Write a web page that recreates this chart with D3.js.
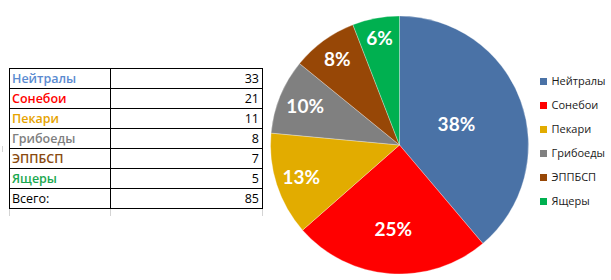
<!DOCTYPE html>
<html>
<head>
<meta charset="utf-8">
<script src="https://cdn.jsdelivr.net/npm/d3@7"></script>
<style>
  body { margin: 0; background: #fff; }
  svg { display: block; }
</style>
</head>
<body>
<div id="chart"></div>
<script>
// data
let categories = ['Нейтралы', 'Сонебои', 'Пекари', 'Грибоеды', 'ЭППБСП', 'Ящеры'];
let counts = [33, 21, 11, 8, 7, 5];
let pctLabels = ['38%', '25%', '13%', '10%', '8%', '6%'];
let totalLabel = 'Всего:';

let sliceColors = ['#4a72a6', '#ff0000', '#e2ac00', '#808080', '#974706', '#00b050'];
let textColors = ['#5b8bd0', '#ff0000', '#e6a300', '#7f7f7f', '#8a4a10', '#1aa84f'];

let w = 611, h = 280;
let svg = d3.select('#chart').append('svg').attr('width', w).attr('height', h);

//--------------------------------- table -------------------------------------//
let table = {left: 9, mid: 110, right: 262, top: 68, rowH: 20};
let rows = categories.map((c, i) => ({name: c, value: counts[i], color: textColors[i], bold: true}));
rows.push({name: totalLabel, value: d3.sum(counts), color: '#000', bold: false});

let yRow = d3.scaleLinear().domain([0, rows.length]).range([table.top, table.top + rows.length * table.rowH]);

let tg = svg.append('g');
// faint sheet gridlines below table
[table.left, table.mid, table.right].forEach(x => {
  tg.append('line').attr('x1', x + 0.5).attr('x2', x + 0.5)
    .attr('y1', yRow(rows.length)).attr('y2', yRow(rows.length) + 8)
    .attr('stroke', '#d4d4d4');
});
tg.append('line').attr('x1', 2.5).attr('x2', 2.5).attr('y1', 146).attr('y2', 152).attr('stroke', '#d4d4d4');

d3.range(rows.length + 1).forEach(i => {
  tg.append('line').attr('x1', table.left).attr('x2', table.right + 1)
    .attr('y1', yRow(i) + 0.5).attr('y2', yRow(i) + 0.5).attr('stroke', '#000');
});
[table.left, table.mid, table.right].forEach(x => {
  tg.append('line').attr('x1', x + 0.5).attr('x2', x + 0.5)
    .attr('y1', yRow(0)).attr('y2', yRow(rows.length) + 1).attr('stroke', '#000');
});

tg.selectAll('.name').data(rows).enter().append('text')
  .attr('x', table.left + 3)
  .attr('y', (d, i) => yRow(i) + 15)
  .attr('fill', d => d.color)
  .style('font-family', '"Open Sans", sans-serif')
  .style('font-size', '12.5px')
  .style('font-weight', d => d.bold ? 600 : 'normal')
  .text(d => d.name);

tg.selectAll('.val').data(rows).enter().append('text')
  .attr('x', table.right - 3)
  .attr('y', (d, i) => yRow(i) + 15)
  .attr('text-anchor', 'end')
  .attr('fill', '#000')
  .style('font-family', '"Open Sans", sans-serif')
  .style('font-size', '12.5px')
  .text(d => d.value);

//--------------------------------- pie ---------------------------------------//
let cx = 399.5, cy = 145, radius = 129;
// label distance from centre, as fraction of radius (excel best-fit placement)
let labelFrac = [0.47, 0.655, 0.8, 0.79, 0.82, 0.84];

let pie = d3.pie().sort(null).value(d => d);
let arcs = pie(counts);
let arc = d3.arc().innerRadius(0).outerRadius(radius);

let pg = svg.append('g').attr('transform', 'translate(' + cx + ',' + cy + ')');
pg.selectAll('path').data(arcs).enter().append('path')
  .attr('d', arc)
  .attr('fill', (d, i) => sliceColors[i])
  .attr('stroke', '#fff')
  .attr('stroke-width', 0.5)
  .attr('stroke-opacity', 0.6);

pg.selectAll('text').data(arcs).enter().append('text')
  .attr('transform', function (d, i) {
    let a = (d.startAngle + d.endAngle) / 2;
    let r = radius * labelFrac[i];
    return 'translate(' + (Math.sin(a) * r) + ',' + (-Math.cos(a) * r) + ')';
  })
  .attr('text-anchor', 'middle')
  .attr('dy', '0.36em')
  .attr('fill', '#fff')
  .style('font-family', 'Lato, "Open Sans", sans-serif')
  .style('font-size', '19px')
  .style('font-weight', 'bold')
  .text((d, i) => pctLabels[i]);

//--------------------------------- legend ------------------------------------//
let yLeg = d3.scalePoint().domain(categories).range([81.5, 201.5]);
let lg = svg.append('g');
lg.selectAll('rect').data(categories).enter().append('rect')
  .attr('x', 540)
  .attr('y', d => yLeg(d) - 3.5)
  .attr('width', 7).attr('height', 7)
  .attr('fill', (d, i) => sliceColors[i]);
lg.selectAll('text').data(categories).enter().append('text')
  .attr('x', 551.5)
  .attr('y', d => yLeg(d))
  .attr('dy', '0.36em')
  .attr('fill', '#1a1a1a')
  .style('font-family', '"Open Sans", sans-serif')
  .style('font-size', '11px')
  .text(d => d);
</script>
</body>
</html>
